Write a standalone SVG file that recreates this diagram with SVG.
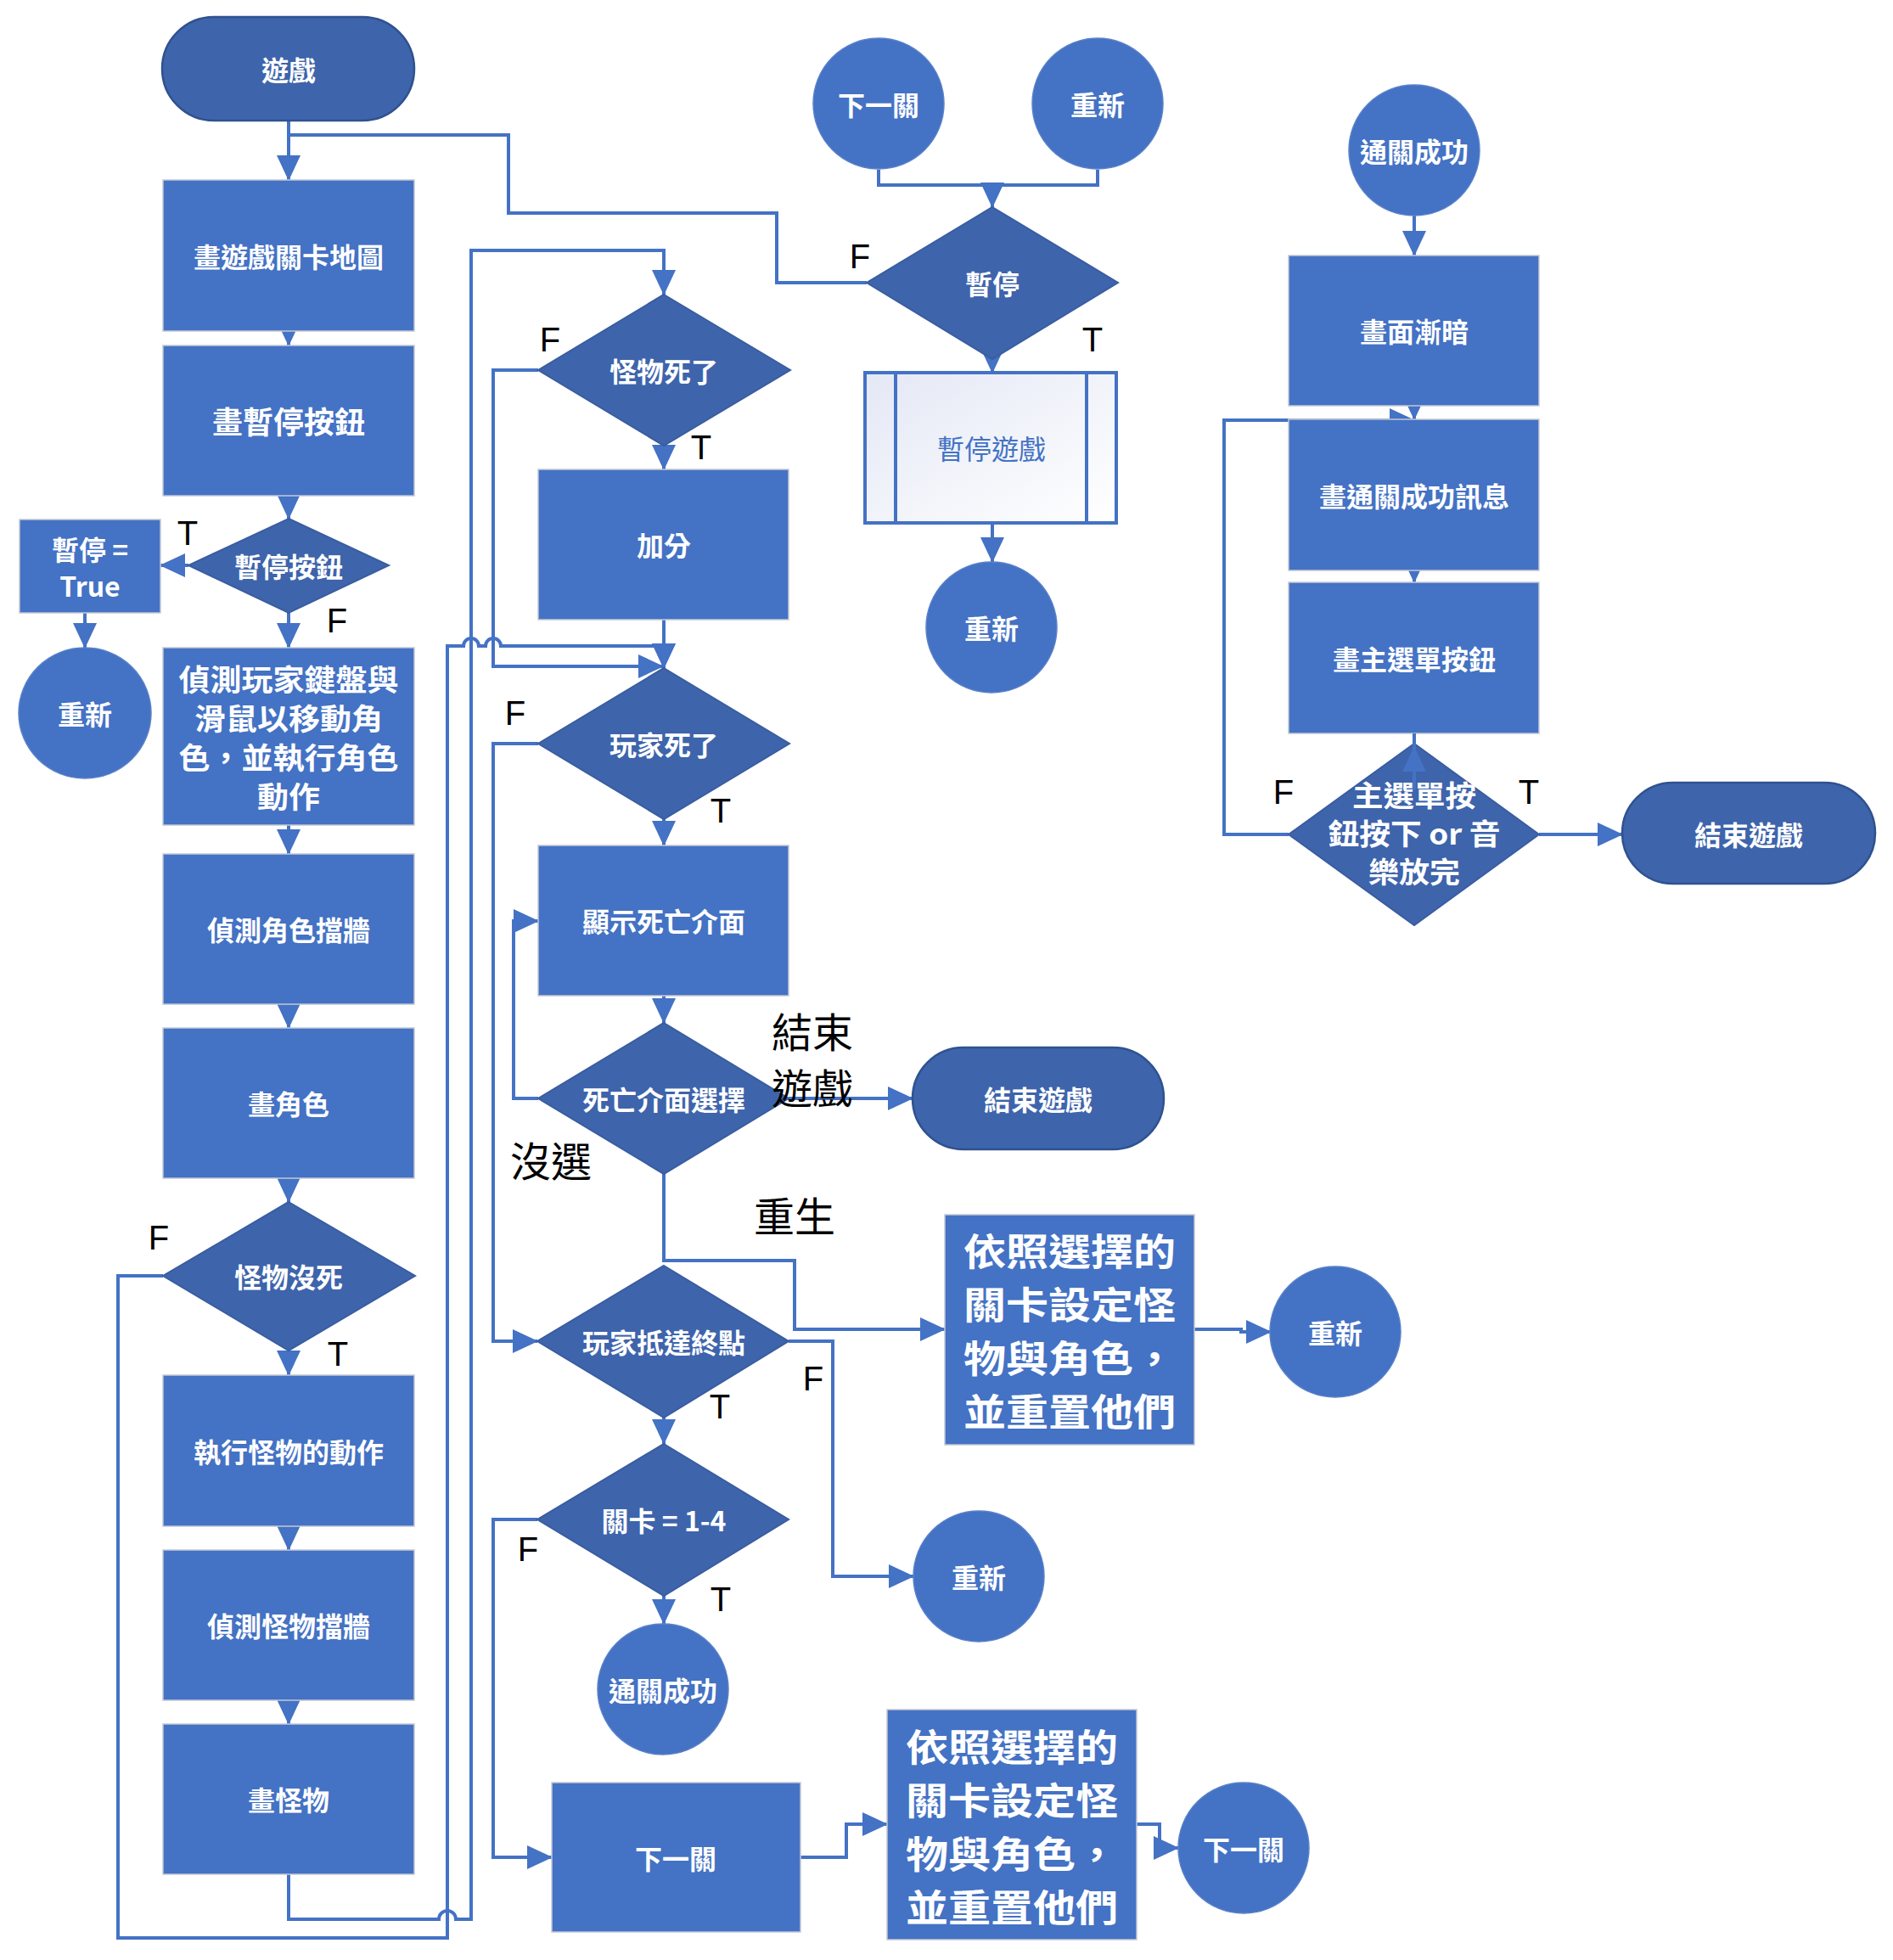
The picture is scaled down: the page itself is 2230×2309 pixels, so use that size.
<svg xmlns="http://www.w3.org/2000/svg" width="2230" height="2309" viewBox="0 0 2230 2309">
<style>
.bg{fill:#ffffff}
.rect{fill:#4472c4;stroke:#c3c8d4;stroke-width:1.5}
.dia{fill:#3e64ab;stroke:#3a5da0;stroke-width:2}
.term{fill:#3e64ab;stroke:#2f528f;stroke-width:2.5}
.circ{fill:#4472c4;stroke:#5a82c9;stroke-width:1.5}
.proc{fill:url(#pg);stroke:#4472c4;stroke-width:4}
.t{font-family:"Noto Sans CJK TC","Noto Sans CJK SC",sans-serif;fill:#ffffff;font-size:32px;font-weight:700;text-anchor:middle;dominant-baseline:central}
.tp{font-family:"Noto Sans CJK TC","Noto Sans CJK SC",sans-serif;fill:#4472c4;font-size:32px;font-weight:400;text-anchor:middle;dominant-baseline:central}
.big{font-size:44px}
.lbl{font-family:"Liberation Sans",Arial,sans-serif;font-size:40px;fill:#000000;text-anchor:middle;dominant-baseline:central}
.blk{font-family:"Noto Sans CJK TC","Noto Sans CJK SC",sans-serif;font-size:48px;fill:#000000;dominant-baseline:central}
.conn{fill:none;stroke:#4472c4;stroke-width:4;stroke-linejoin:miter}
.arr{marker-end:url(#ah)}
</style>
<defs>
<marker id="ah" markerUnits="userSpaceOnUse" markerWidth="30" markerHeight="30" viewBox="0 0 30 30" refX="29" refY="15" orient="auto">
<path d="M0,1 L30,15 L0,29 z" fill="#4472c4"/>
</marker>
<linearGradient id="pg" x1="0" y1="0" x2="1" y2="1">
<stop offset="0" stop-color="#e4e8f5"/>
<stop offset="1" stop-color="#ffffff"/>
</linearGradient>
</defs>
<rect class="bg" x="0" y="0" width="2230" height="2309"/>

<g id="connectors">
<path class="conn arr" d="M340,142 V212"/>
<path class="conn" d="M1021,333 H915 V251 H599 V159 H340"/>
<path class="conn arr" d="M340,390 V407"/>
<path class="conn arr" d="M340,584 V611"/>
<path class="conn arr" d="M222,666 H189"/>
<path class="conn arr" d="M340,722 V763"/>
<path class="conn arr" d="M100,722 V763"/>
<path class="conn arr" d="M340,972 V1006"/>
<path class="conn arr" d="M340,1183 V1211"/>
<path class="conn arr" d="M340,1388 V1416"/>
<path class="conn arr" d="M340,1591 V1620"/>
<path class="conn arr" d="M340,1798 V1826"/>
<path class="conn arr" d="M340,2003 V2031"/>
<path class="conn arr" d="M192,1503 H139 V2283 H527 V761 H546 A9,9 0 0 1 564,761 H572 A9,9 0 0 1 590,761 H782 V787"/>
<path class="conn arr" d="M340,2208 V2261 H517 A10,10 0 0 1 537,2261 H555 V295 H782 V347"/>
<path class="conn arr" d="M634,436 H581 V785 H781"/>
<path class="conn arr" d="M782,525 V553"/>
<path class="conn arr" d="M782,730 V787"/>
<path class="conn arr" d="M634,876 H581 V1580 H633"/>
<path class="conn arr" d="M782,965 V996"/>
<path class="conn arr" d="M782,1173 V1205"/>
<path class="conn arr" d="M634,1294 H605 V1085 H634"/>
<path class="conn arr" d="M929,1294 H1075"/>
<path class="conn arr" d="M782,1383 V1485 H936 V1566 H1113"/>
<path class="conn arr" d="M1407,1566 H1462 V1569 H1497"/>
<path class="conn arr" d="M929,1580 H981 V1857 H1076"/>
<path class="conn arr" d="M782,1670 V1701"/>
<path class="conn arr" d="M782,1880 V1913"/>
<path class="conn arr" d="M633,1790 H581 V2188 H650"/>
<path class="conn arr" d="M943,2188 H997 V2149 H1045"/>
<path class="conn arr" d="M1339,2149 H1366 V2177 H1388"/>
<path class="conn" d="M1035,200 V218 H1293 V200"/>
<path class="conn arr" d="M1169,218 V244"/>
<path class="conn arr" d="M1169,423 V439"/>
<path class="conn arr" d="M1169,616 V662"/>
<path class="conn arr" d="M1666,254 V301"/>
<path class="conn arr" d="M1666,478 V494"/>
<path class="conn arr" d="M1666,672 V686"/>
<path class="conn arr" d="M1518,983 H1442 V495 H1666"/>
<path class="conn arr" d="M1813,983 H1911"/>
</g>

<g id="n-start"><rect class="term" x="191" y="20" width="297" height="122" rx="61" ry="61"/><text class="t" x="340" y="81">遊戲</text></g>
<g id="n-map"><rect class="rect" x="192" y="212" width="296" height="178"/><text class="t" x="340" y="301">畫遊戲關卡地圖</text></g>
<g id="n-drawpause"><rect class="rect" x="192" y="407" width="296" height="177"/><text class="t" x="340" y="495" style="font-size:36px">畫暫停按鈕</text></g>
<g id="n-pausebtn"><polygon class="dia" points="340,611 458,666 340,722 222,666"/><text class="t" x="340" y="666">暫停按鈕</text></g>
<g id="n-pausetrue"><rect class="rect" x="23" y="612" width="166" height="110"/><text class="t"><tspan x="106" y="646">暫停 =</tspan><tspan x="106" y="689">True</tspan></text></g>
<g id="n-restart1"><ellipse class="circ" cx="100" cy="840" rx="78" ry="77"/><text class="t" x="100" y="840">重新</text></g>
<g id="n-input"><rect class="rect" x="192" y="763" width="296" height="209"/>
<text class="t" style="font-size:35px"><tspan x="340" y="798" textLength="259" lengthAdjust="spacingAndGlyphs">偵測玩家鍵盤與</tspan><tspan x="340" y="844" textLength="222" lengthAdjust="spacingAndGlyphs">滑鼠以移動角</tspan><tspan x="340" y="890" textLength="259" lengthAdjust="spacingAndGlyphs">色，並執行角色</tspan><tspan x="340" y="936" textLength="74" lengthAdjust="spacingAndGlyphs">動作</tspan></text></g>
<g id="n-wall"><rect class="rect" x="192" y="1006" width="296" height="177"/><text class="t" x="340" y="1094">偵測角色擋牆</text></g>
<g id="n-drawchar"><rect class="rect" x="192" y="1211" width="296" height="177"/><text class="t" x="340" y="1299">畫角色</text></g>
<g id="n-monsteralive"><polygon class="dia" points="340,1416 489,1503 340,1591 192,1503"/><text class="t" x="340" y="1503">怪物沒死</text></g>
<g id="n-monsteract"><rect class="rect" x="192" y="1620" width="296" height="178"/><text class="t" x="340" y="1709">執行怪物的動作</text></g>
<g id="n-monsterwall"><rect class="rect" x="192" y="1826" width="296" height="177"/><text class="t" x="340" y="1914">偵測怪物擋牆</text></g>
<g id="n-drawmonster"><rect class="rect" x="192" y="2031" width="296" height="177"/><text class="t" x="340" y="2119">畫怪物</text></g>

<g id="n-monsterdead"><polygon class="dia" points="782,347 931,436 782,525 634,436"/><text class="t" x="782" y="436">怪物死了</text></g>
<g id="n-score"><rect class="rect" x="634" y="553" width="295" height="177"/><text class="t" x="782" y="641">加分</text></g>
<g id="n-playerdead"><polygon class="dia" points="782,787 930,876 782,965 634,876"/><text class="t" x="782" y="876">玩家死了</text></g>
<g id="n-deathscreen"><rect class="rect" x="634" y="996" width="295" height="177"/><text class="t" x="782" y="1084">顯示死亡介面</text></g>
<g id="n-deathchoice"><polygon class="dia" points="782,1205 929,1294 782,1383 634,1294"/><text class="t" x="782" y="1294">死亡介面選擇</text></g>
<g id="n-end1"><rect class="term" x="1075" y="1234" width="296" height="120" rx="60" ry="60"/><text class="t" x="1223" y="1294">結束遊戲</text></g>
<g id="n-reset1"><rect class="rect" x="1113" y="1431" width="294" height="271"/>
<text class="t big"><tspan x="1260" y="1472" textLength="250" lengthAdjust="spacingAndGlyphs">依照選擇的</tspan><tspan x="1260" y="1535" textLength="250" lengthAdjust="spacingAndGlyphs">關卡設定怪</tspan><tspan x="1260" y="1598" textLength="250" lengthAdjust="spacingAndGlyphs">物與角色，</tspan><tspan x="1260" y="1661" textLength="250" lengthAdjust="spacingAndGlyphs">並重置他們</tspan></text></g>
<g id="n-restart2"><ellipse class="circ" cx="1573" cy="1569" rx="77" ry="77"/><text class="t" x="1573" y="1569">重新</text></g>
<g id="n-goal"><polygon class="dia" points="782,1491 929,1580 782,1670 633,1580"/><text class="t" x="782" y="1580">玩家抵達終點</text></g>
<g id="n-restart3"><ellipse class="circ" cx="1153" cy="1857" rx="77" ry="77"/><text class="t" x="1153" y="1857">重新</text></g>
<g id="n-level"><polygon class="dia" points="782,1701 929,1790 782,1880 633,1790"/><text class="t" x="782" y="1790">關卡 = 1-4</text></g>
<g id="n-clear"><ellipse class="circ" cx="781" cy="1990" rx="77" ry="77"/><text class="t" x="781" y="1990">通關成功</text></g>
<g id="n-next"><rect class="rect" x="650" y="2100" width="293" height="176"/><text class="t" x="796" y="2188">下一關</text></g>
<g id="n-reset2"><rect class="rect" x="1045" y="2014" width="294" height="271"/>
<text class="t big"><tspan x="1192" y="2056" textLength="250" lengthAdjust="spacingAndGlyphs">依照選擇的</tspan><tspan x="1192" y="2119" textLength="250" lengthAdjust="spacingAndGlyphs">關卡設定怪</tspan><tspan x="1192" y="2182" textLength="250" lengthAdjust="spacingAndGlyphs">物與角色，</tspan><tspan x="1192" y="2245" textLength="250" lengthAdjust="spacingAndGlyphs">並重置他們</tspan></text></g>
<g id="n-next2"><ellipse class="circ" cx="1465" cy="2177" rx="77" ry="77"/><text class="t" x="1465" y="2177">下一關</text></g>

<g id="n-next-top"><ellipse class="circ" cx="1035" cy="122" rx="77" ry="77"/><text class="t" x="1035" y="122">下一關</text></g>
<g id="n-restart-top"><ellipse class="circ" cx="1293" cy="122" rx="77" ry="77"/><text class="t" x="1293" y="122">重新</text></g>
<g id="n-pause"><polygon class="dia" points="1169,244 1317,333 1169,423 1021,333"/><text class="t" x="1169" y="333">暫停</text></g>
<g id="n-pausegame"><rect class="proc" x="1019" y="439" width="296" height="177"/><line x1="1055" y1="439" x2="1055" y2="616" stroke="#4472c4" stroke-width="4"/><line x1="1280" y1="439" x2="1280" y2="616" stroke="#4472c4" stroke-width="4"/><text class="tp" x="1168" y="527">暫停遊戲</text></g>
<g id="n-restart4"><ellipse class="circ" cx="1168" cy="739" rx="77" ry="77"/><text class="t" x="1168" y="739">重新</text></g>

<g id="n-clear-top"><ellipse class="circ" cx="1666" cy="177" rx="77" ry="77"/><text class="t" x="1666" y="177">通關成功</text></g>
<g id="n-fade"><rect class="rect" x="1518" y="301" width="295" height="177"/><text class="t" x="1666" y="389">畫面漸暗</text></g>
<g id="n-clearmsg"><rect class="rect" x="1518" y="494" width="295" height="178"/><text class="t" x="1666" y="583">畫通關成功訊息</text></g>
<g id="n-menubtn"><rect class="rect" x="1518" y="686" width="295" height="178"/><text class="t" x="1666" y="775">畫主選單按鈕</text></g>
<g id="n-menuchoice"><polygon class="dia" points="1666,876 1813,983 1666,1090 1518,983"/></g>
<g id="n-end2"><rect class="term" x="1911" y="922" width="298" height="119" rx="60" ry="60"/><text class="t" x="2060" y="982">結束遊戲</text></g>

<g id="connectors-overlay">
<path class="conn" d="M1666,864 V882"/>
<path class="conn arr" d="M1666,930 V880"/>
</g>
<g id="n-menuchoice-text">
<text class="t" style="font-size:34px"><tspan x="1666" y="935" textLength="146" lengthAdjust="spacingAndGlyphs">主選單按</tspan><tspan x="1666" y="980" textLength="203" lengthAdjust="spacingAndGlyphs">鈕按下 or 音</tspan><tspan x="1666" y="1025" textLength="108" lengthAdjust="spacingAndGlyphs">樂放完</tspan></text>
</g>

<g id="labels">
<text class="lbl" x="221" y="628">T</text>
<text class="lbl" x="397" y="731">F</text>
<text class="lbl" x="187" y="1458">F</text>
<text class="lbl" x="398" y="1595">T</text>
<text class="lbl" x="648" y="400">F</text>
<text class="lbl" x="826" y="527">T</text>
<text class="lbl" x="1013" y="302">F</text>
<text class="lbl" x="1287" y="400">T</text>
<text class="lbl" x="607" y="840">F</text>
<text class="lbl" x="849" y="955">T</text>
<text class="lbl" x="958" y="1624">F</text>
<text class="lbl" x="848" y="1657">T</text>
<text class="lbl" x="622" y="1825">F</text>
<text class="lbl" x="849" y="1884">T</text>
<text class="lbl" x="1512" y="933">F</text>
<text class="lbl" x="1801" y="933">T</text>
<text class="blk"><tspan x="909" y="1213">結束</tspan><tspan x="909" y="1279">遊戲</tspan></text>
<text class="blk" x="601" y="1365">沒選</text>
<text class="blk" x="888" y="1430">重生</text>
</g>
</svg>
